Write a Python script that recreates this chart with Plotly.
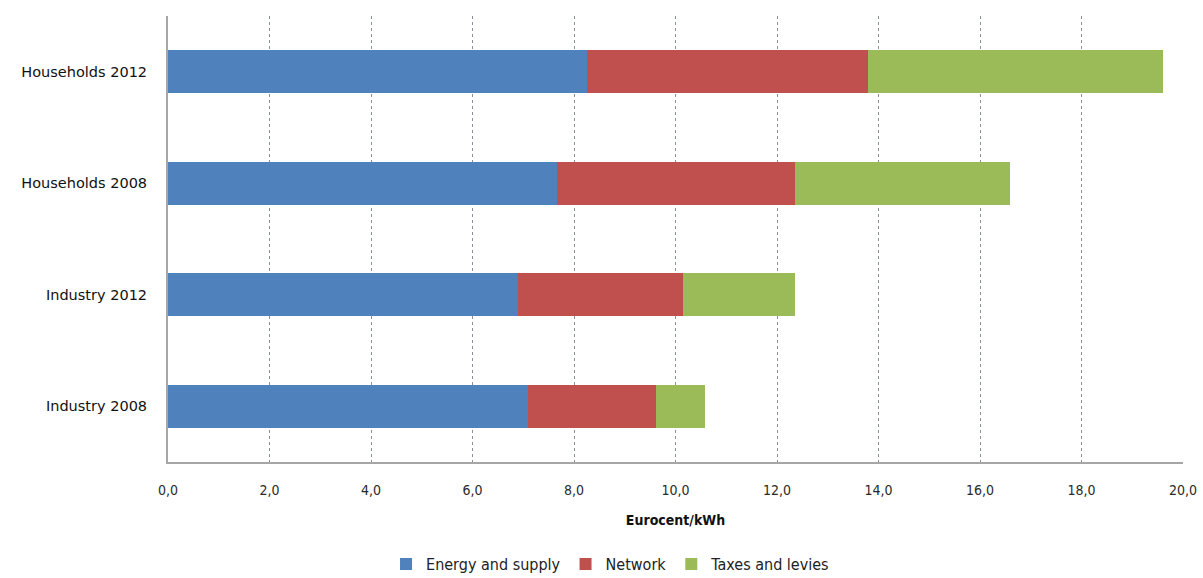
import plotly.graph_objects as go

categories = ["Industry 2008", "Industry 2012", "Households 2008", "Households 2012"]
energy_supply = [7.10, 6.89, 7.67, 8.26]
network = [2.51, 3.25, 4.68, 5.54]
taxes_levies = [0.98, 2.21, 4.25, 5.81]
x_ticks = [0, 2, 4, 6, 8, 10, 12, 14, 16, 18, 20]

series = [
    ("Energy and supply", energy_supply, "#4F81BD"),
    ("Network", network, "#C0504D"),
    ("Taxes and levies", taxes_levies, "#9BBB59"),
]

FONT_C = "DejaVu Sans Condensed, DejaVu Sans, sans-serif"
FONT = "DejaVu Sans, sans-serif"

fig = go.Figure()
for name, vals, color in series:
    fig.add_trace(go.Bar(
        y=categories, x=vals, name=name, orientation="h",
        marker=dict(color=color, line=dict(width=0)),
    ))

fig.update_layout(
    barmode="stack",
    bargap=0.61,
    width=1203, height=578,
    margin=dict(l=168, r=20, t=16, b=116),
    paper_bgcolor="white", plot_bgcolor="white",
    font=dict(family=FONT_C, size=14, color="#222222"),
    separators=", ",
    showlegend=True,
    legend=dict(
        orientation="h", x=0.436, xanchor="center",
        yref="container", y=0.024, yanchor="middle",
        font=dict(family=FONT_C, size=16, color="#222222"), traceorder="normal",
        itemwidth=30,
    ),
)

fig.update_xaxes(
    range=[0, 20], tickvals=x_ticks, tickformat=".1f",
    showgrid=True, gridcolor="#8a9099", griddash="dot", gridwidth=1,
    showline=True, linecolor="#a6a6a6", linewidth=2,
    zeroline=False, ticks="", ticklabelstandoff=14, automargin=False,
    tickfont=dict(family=FONT_C, size=14, color="#2a2a2a"),
    title=dict(text="<b>Eurocent/kWh</b>", font=dict(family=FONT_C, size=14, color="#111111"), standoff=18),
)
fig.update_yaxes(
    showgrid=False, showline=True, linecolor="#a6a6a6", linewidth=2,
    ticks="", ticklabelstandoff=16, automargin=False,
    tickfont=dict(family=FONT, size=14.5, color="#111111"),
)

fig.write_html("out.html")
